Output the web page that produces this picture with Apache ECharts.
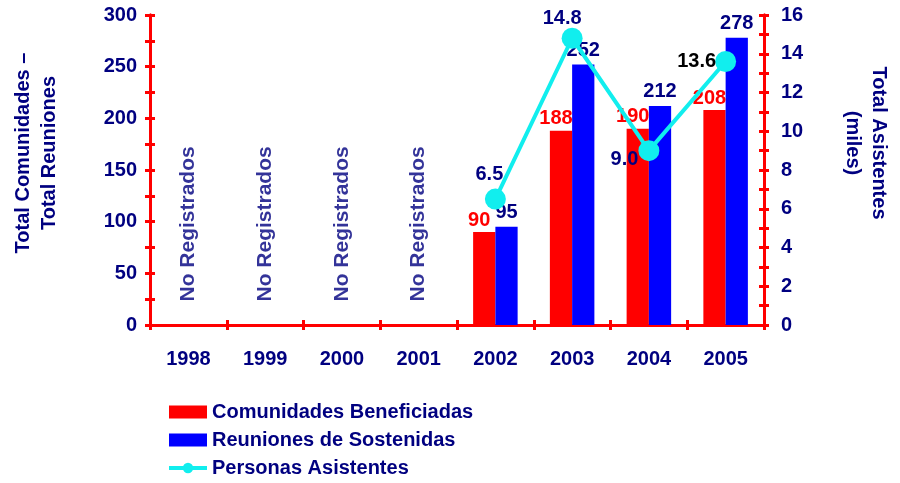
<!DOCTYPE html>
<html>
<head>
<meta charset="utf-8">
<script src="https://cdn.jsdelivr.net/npm/echarts@6/dist/echarts.min.js"></script>
<style>
  html, body { margin: 0; padding: 0; background: #fff; }
  #chart { width: 900px; height: 483px; }
</style>
</head>
<body>
<div id="chart"></div>
<script>
var years = ['1998', '1999', '2000', '2001', '2002', '2003', '2004', '2005'];
var comunidades = [null, null, null, null, 90, 188, 190, 208];
var reuniones = [null, null, null, null, 95, 252, 212, 278];
var asistentes = [null, null, null, null, 6.5, 14.8, 9.0, 13.6];
var noRegistrados = [0, 0, 0, 0, null, null, null, null];

var NAVY = '#000080';
var RED = '#ff0000';
var FONT = 'Arial, "Liberation Sans", sans-serif';
var FS = 20;

// label placement for each line point
var lineLabels = [null, null, null, null,
  { position: 'top', offset: [-6, 1], color: NAVY },
  { position: 'top', offset: [-10, 6], color: NAVY },
  { position: 'left', offset: [5, 9], color: NAVY },
  { position: 'left', offset: [6, 0], color: '#000' }
];

var chart = echarts.init(document.getElementById('chart'));

function yAx(pos, max, interval, step, inside, name) {
  var a = {
    type: 'value',
    position: pos,
    min: 0,
    max: max,
    interval: interval,
    axisLine: { show: true, lineStyle: { color: RED, width: 3 } },
    axisTick: { show: true, inside: inside, length: 5, lineStyle: { color: RED, width: 3 } },
    splitLine: { show: false },
    axisLabel: { show: !inside, margin: pos === 'left' ? 13 : 17, color: NAVY, fontSize: FS, fontWeight: 'bold', fontFamily: FONT,
      formatter: function (v) { return v % step === 0 ? String(v) : ''; } }
  };
  if (name) {
    a.name = name;
    a.nameLocation = 'middle';
    a.nameRotate = pos === 'left' ? 90 : -90;
    a.nameGap = pos === 'left' ? 88 : 76;
    a.nameTextStyle = { color: NAVY, fontSize: FS, fontWeight: 'bold', fontFamily: FONT, lineHeight: 26,
      padding: pos === 'left' ? [0, 0, 0, 34] : [0, 54, 0, 0] };
  }
  return a;
}

function xAx(inside) {
  return {
    type: 'category',
    data: years,
    position: 'bottom',
    axisLine: { show: !inside, lineStyle: { color: RED, width: 3 } },
    axisTick: { show: true, inside: inside, length: 5, lineStyle: { color: RED, width: 3 } },
    axisLabel: { show: !inside, margin: 24, color: NAVY, fontSize: FS, fontWeight: 'bold', fontFamily: FONT }
  };
}

var option = {
  animation: false,
  backgroundColor: '#fff',
  grid: { left: 150, right: 133, top: 15, bottom: 158 },
  legend: {
    data: [
      { name: 'Comunidades Beneficiadas', icon: 'rect' },
      { name: 'Reuniones de Sostenidas', icon: 'rect' },
      'Personas Asistentes'
    ],
    orient: 'vertical',
    left: 167,
    top: 402,
    padding: 0,
    itemWidth: 38,
    itemHeight: 13,
    itemGap: 8,
    lineStyle: { width: 4 },
    textStyle: { color: NAVY, fontSize: FS, fontWeight: 'bold', fontFamily: FONT }
  },
  xAxis: [xAx(false), xAx(true)],
  yAxis: [
    yAx('left', 300, 25, 50, false, 'Total Comunidades –\nTotal Reuniones'),
    yAx('right', 16, 1, 2, false, 'Total Asistentes\n(miles)'),
    yAx('left', 300, 25, 50, true),
    yAx('right', 16, 1, 2, true)
  ],
  series: [
    {
      name: 'Comunidades Beneficiadas',
      type: 'bar',
      data: comunidades,
      barWidth: '29%',
      barGap: '0%',
      itemStyle: { color: RED },
      label: { show: true, position: 'top', distance: 2, offset: [-5, 0], color: RED,
        fontSize: FS, fontWeight: 'bold', fontFamily: FONT }
    },
    {
      name: 'Reuniones de Sostenidas',
      type: 'bar',
      data: reuniones,
      barWidth: '29%',
      barGap: '0%',
      itemStyle: { color: '#0000ff' },
      label: { show: true, position: 'top', distance: 4, color: NAVY,
        fontSize: FS, fontWeight: 'bold', fontFamily: FONT }
    },
    {
      name: 'Personas Asistentes',
      type: 'line',
      yAxisIndex: 1,
      data: asistentes.map(function (v, i) {
        if (v === null) return null;
        return { value: v, label: lineLabels[i] };
      }),
      symbol: 'circle',
      symbolSize: 21,
      lineStyle: { color: '#11eeee', width: 4 },
      itemStyle: { color: '#11eeee' },
      label: { show: true, fontSize: FS, fontWeight: 'bold', fontFamily: FONT,
        formatter: function (p) { return p.value.toFixed(1); } }
    },
    {
      name: 'sinRegistro',
      type: 'scatter',
      data: noRegistrados,
      symbolSize: 1,
      itemStyle: { color: 'rgba(0,0,0,0)' },
      silent: true,
      label: { show: true, position: 'top', distance: 20, rotate: 90, align: 'left', verticalAlign: 'middle',
        offset: [3, 0], formatter: 'No Registrados', color: NAVY, fontSize: 21, fontWeight: 'bold', fontFamily: FONT }
    }
  ]
};

chart.setOption(option);
</script>
</body>
</html>
